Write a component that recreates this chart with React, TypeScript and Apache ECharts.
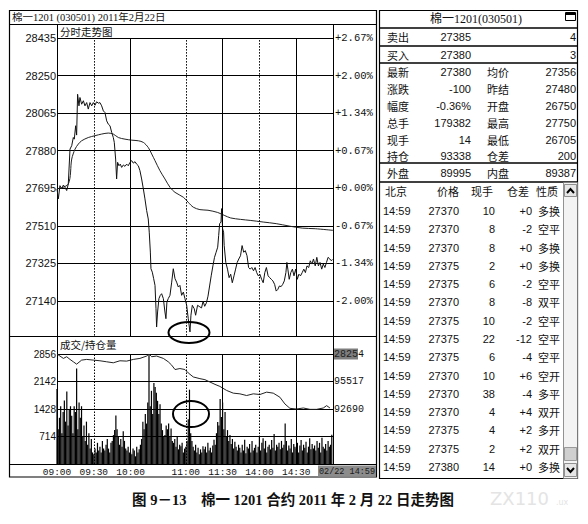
import React, { useEffect, useRef } from 'react';
import * as echarts from 'echarts';

// ---------- data ----------
const timeTicks = [0, 30, 60, 105, 135, 165, 195];
const timeLabels = ['09:00', '09:30', '10:00', '11:00', '11:30', '14:00', '14:30'];
const solidVerticals = [60, 135, 195];
const dottedVerticals = [30, 105, 165];

const priceTicks = [28435, 28250, 28065, 27880, 27695, 27510, 27325, 27140];
const pctLabels = ['+2.67%', '+2.00%', '+1.34%', '+0.67%', '+0.00%', '-0.67%', '-1.34%', '-2.00%'];

const priceMinutes = [
  0, 1.1, 2.4, 3.8, 5.2, 6.5, 7.9, 9.2, 10.6, 12.0, 13.3, 14.1, 15.2, 16.0, 16.8, 17.9, 18.7, 20.1, 21.5, 22.8,
  24.2, 25.5, 26.9, 28.3, 29.6, 31.0, 32.3, 33.7, 35.0, 36.4, 37.8, 39.1, 40.5, 41.8, 43.2, 44.6, 45.9, 46.7, 47.8, 48.6,
  49.4, 50.5, 51.6, 52.7, 54.1, 55.4, 56.8, 58.1, 59.5, 60.9, 62.2, 63.6, 64.9, 66.3, 67.6, 69.0, 70.4, 71.7, 73.1, 74.4,
  75.2, 76.1, 76.6, 77.7, 78.8, 79.9, 80.7, 81.2, 82.0, 83.1, 84.2, 85.3, 86.7, 88.0, 88.8, 89.6, 90.7, 92.1, 93.5, 94.8,
  96.2, 97.5, 98.9, 100.2, 101.6, 103.0, 104.3, 105.7, 107.0, 108.4, 109.2, 110.3, 111.9, 113.0, 114.6, 116.5,
  117.8, 119.1, 120.4, 121.8, 123.1, 124.4, 125.7, 127.1, 128.4, 129.7, 131.0, 131.8, 132.6, 133.7, 134.2, 135.0,
  135.8, 136.3, 137.6, 139.0, 140.3, 141.6, 142.9, 144.3, 145.6, 146.9, 148.2, 149.6, 150.9, 152.2, 153.5, 154.9,
  156.2, 157.5, 158.8, 160.2, 161.5, 162.8, 164.1, 165.4, 166.8, 168.1, 169.4, 170.7, 172.1, 173.4, 174.7, 176.0,
  177.4, 178.7, 180.0, 181.3, 182.7, 184.0, 185.3, 186.6, 187.4, 188.2, 189.3, 190.6, 191.9, 193.2, 194.6, 195.9,
  197.2, 198.5, 199.9, 201.2, 202.5, 203.8, 205.2, 206.5, 207.8, 209.1, 210.5, 211.8, 213.1, 214.4, 215.8, 217.1,
  218.4, 219.7, 221.0, 222.4, 223.7, 224.5,
];
const priceValues = [
  27692, 27643, 27708, 27692, 27711, 27700, 27684, 27716, 27888, 27905, 27945, 27937, 28003, 27957, 28158, 28101, 28142, 28109, 28126, 28101,
  28117, 28085, 28117, 28101, 28117, 28104, 28121, 28114, 28117, 28101, 28076, 28068, 28027, 28011, 28003, 27970, 27945, 27921, 27839, 27741,
  27823, 27806, 27814, 27798, 27810, 27803, 27814, 27806, 27823, 27831, 27819, 27826, 27814, 27806, 27782, 27741, 27692, 27643, 27585, 27544,
  27479, 27381, 27299, 27282, 27250, 27217, 27102, 27012, 27086, 27152, 27168, 27176, 27152, 27086, 27053, 27135, 27152, 27168, 27233, 27299,
  27250, 27233, 27209, 27217, 27168, 27184, 27152, 27119, 27053, 26988, 27070, 27119, 27102, 27070, 27119, 27111,
  27106, 27139, 27114, 27131, 27164, 27214, 27264, 27313, 27355, 27380, 27405, 27463, 27521, 27529, 27595, 27496,
  27479, 27413, 27330, 27297, 27255, 27272, 27230, 27264, 27297, 27330, 27347, 27363, 27413, 27380, 27388, 27363,
  27305, 27297, 27305, 27289, 27305, 27280, 27264, 27272, 27247, 27230, 27280, 27305, 27264, 27255, 27247, 27239,
  27222, 27189, 27197, 27214, 27211, 27222, 27239, 27280, 27330, 27297, 27247, 27280, 27297, 27264, 27297, 27247,
  27272, 27264, 27280, 27297, 27280, 27313, 27305, 27338, 27322, 27347, 27313, 27355, 27313, 27330, 27297, 27322,
  27305, 27330, 27355, 27347, 27338, 27345,
];

const avgMinutes = [0, 9.2, 12.0, 14.7, 17.4, 20.1, 25.5, 31.0, 36.4, 41.8, 45.9, 50.0, 55.4, 60.9, 66.3, 70.4, 74.4, 77.2, 79.9, 83.9,
  88.0, 92.1, 96.2, 103.0, 107.0, 111.1, 116.5, 123.1, 131.0, 136.3, 141.6, 149.6, 157.5, 168.1, 178.7, 189.3, 199.9, 210.5, 225];
const avgValues = [27692, 27716, 27839, 27888, 27913, 27929, 27945, 27954, 27962, 27967, 27962, 27945, 27937, 27932, 27929, 27921, 27896, 27864, 27831, 27782,
  27741, 27700, 27675, 27651, 27626, 27602, 27590, 27587, 27576, 27562, 27549, 27542, 27537, 27529, 27521, 27509, 27499, 27496, 27488];

const volTicks = [2856, 2142, 1428, 714];
const volumeValues = [
  1950, 900, 1200, 1500, 800, 1350, 1650, 1100, 1880, 1000, 1400, 1500, 1250, 800, 1500,
  1350, 2480, 900, 1600, 1200, 1500, 700, 1000, 600, 1100, 500, 800, 400, 650, 300,
  250, 400, 300, 550, 350, 450, 300, 600, 400, 350, 500, 650, 400, 300, 550,
  600, 750, 880, 1260, 900, 700, 500, 650, 450, 850, 600, 400, 350, 450, 300,
  300, 250, 400, 350, 200, 450, 300, 380, 500, 650, 1100, 900, 1300, 1050, 1600,
  2830, 1500, 1900, 1300, 2100, 2000, 1850, 1640, 1300, 1550, 1050, 880, 700, 750, 1000,
  900, 1050, 700, 920, 600, 550, 650, 450, 720, 380, 500, 460, 550, 300, 400,
  450, 600, 1165, 1930, 800, 600, 450, 350, 500, 300, 420, 250, 380, 300, 460,
  380, 450, 300, 550, 350, 420, 300, 480, 630, 500, 800, 1090, 1000, 1690, 1220,
  1600, 900, 1350, 700, 880, 600, 750, 520, 650, 400, 580, 450, 350, 500, 420,
  300, 500, 350, 630, 280, 450, 400, 520, 300, 600, 350, 420, 500, 300, 450,
  700, 350, 550, 670, 400, 600, 300, 450, 500, 380, 620, 420, 780, 350, 500,
  450, 550, 380, 600, 420, 500, 1050, 600, 350, 480, 400, 650, 300, 520, 450,
  400, 550, 300, 480, 620, 350, 500, 420, 580, 300, 450, 670, 380, 520, 400,
  480, 350, 600, 420, 550, 300, 680, 450, 400, 520, 350, 600, 450, 500, 760,
];

const oiTicks = [98344, 95517, 92690];
const oiLabels = ['28254', '95517', '92690'];
const oiMinutes = [0, 2.4, 5.2, 7.9, 10.6, 13.3, 16.0, 20.1, 24.2, 29.6, 35.0, 40.5, 45.9, 51.3, 56.8, 62.2, 67.6, 73.1, 75.0, 77.2,
  81.2, 86.7, 90.7, 93.5, 96.2, 100.2, 104.3, 107.0, 111.1, 116.5, 120.6, 124.7, 128.8, 132.8, 138.3, 143.7, 149.1, 154.6, 160.0, 165.4,
  170.9, 176.3, 181.7, 185.8, 189.9, 195.3, 200.8, 206.2, 211.6, 217.1, 219.8, 222.5];
const oiValues = [98342, 98134, 97891, 98064, 97787, 97544, 97301, 97717, 97787, 97717, 97648, 97544, 97440, 97648, 97613, 97787, 97891, 98134, 98342, 98064,
  98134, 97891, 97544, 97197, 96746, 96850, 96746, 96400, 95983, 95810, 95706, 95463, 95220, 95012, 94596, 94319, 94249, 94076, 94249, 94180,
  94423, 94319, 93902, 93209, 92758, 92689, 92793, 92654, 92654, 92793, 93036, 92793];

// right panel
const headerTitle = '棉一1201(030501)';
const bookLabels = ['卖出', '买入'];
const bookPrices = ['27385', '27380'];
const bookVols = ['4', '3'];
const statLabelsL = ['最新', '涨跌', '幅度', '总手', '现手', '持仓'];
const statValuesL = ['27380', '-100', '-0.36%', '179382', '14', '93338'];
const statLabelsR = ['均价', '昨结', '开盘', '最高', '最低', '仓差'];
const statValuesR = ['27356', '27480', '26750', '27750', '26705', '200'];
const outerLabels = ['外盘', '内盘'];
const outerValues = ['89995', '89387'];
const listHeaders = ['北京', '价格', '现手', '仓差', '性质'];
const tradeTimes = ['14:59', '14:59', '14:59', '14:59', '14:59', '14:59', '14:59', '14:59', '14:59', '14:59', '14:59', '14:59', '14:59', '14:59', '14:59'];
const tradePrices = ['27370', '27370', '27370', '27375', '27375', '27370', '27375', '27375', '27375', '27370', '27370', '27370', '27375', '27375', '27380'];
const tradeVols = ['10', '8', '8', '2', '6', '8', '10', '22', '6', '10', '38', '4', '4', '2', '14'];
const tradeDiffs = ['+0', '-2', '+0', '+0', '-2', '-8', '-2', '-12', '-4', '+6', '-4', '+4', '+2', '+2', '+0'];
const tradeNatures = ['多换', '空平', '多换', '多换', '空平', '双平', '空平', '空平', '空平', '空开', '多平', '双开', '多开', '双开', '多换'];

const chartTitle = '棉一1201 (030501) 2011年2月22日';
const priceTitle = '分时走势图';
const volTitle = '成交/持仓量';
const lastTime = '02/22 14:59';
const caption = '图 9－13　棉一 1201 合约 2011 年 2 月 22 日走势图';

// ---------- helpers ----------
const SANS = '"Liberation Sans", "Noto Sans CJK SC", sans-serif';
const MONO = '"Liberation Mono", "DejaVu Sans Mono", monospace';
const SERIF = '"Liberation Serif", "Noto Sans CJK SC", serif';

function T(text: string, x: number, y: number, o: any = {}) {
  return {
    type: 'text', x, y, z: 100, silent: true,
    style: {
      text, fill: o.fill || '#111', font: o.font || '11px ' + SANS,
      align: o.align || 'left', verticalAlign: 'middle',
    },
  };
}
function L(x1: number, y1: number, x2: number, y2: number, w = 1, color = '#000') {
  return { type: 'line', z: 100, silent: true, shape: { x1, y1, x2, y2 }, style: { stroke: color, lineWidth: w } };
}

export default function App() {
  const ref = useRef<HTMLDivElement>(null);
  useEffect(() => {
    if (!ref.current) return;
    const chart = echarts.init(ref.current, undefined, { renderer: 'svg' });

    const vLines = [
      ...solidVerticals.map((v) => ({ xAxis: v, lineStyle: { type: 'solid' } })),
      ...dottedVerticals.map((v) => ({ xAxis: v, lineStyle: { type: [1.5, 1.5] } })),
    ];
    const markLine = {
      silent: true, symbol: ['none', 'none'], label: { show: false },
      lineStyle: { color: '#000', width: 1 }, data: vLines, animation: false,
    };

    const g: any[] = [];
    // left chart frame
    g.push({ type: 'rect', z: 100, silent: true, shape: { x: 9.5, y: 10.5, width: 367, height: 466.5 }, style: { fill: 'none', stroke: '#000', lineWidth: 1.2 } });
    g.push(L(10, 24.5, 377, 24.5));
    g.push(T(chartTitle, 12, 17.5, { font: '10.5px ' + SERIF }));
    g.push(L(57.5, 24.5, 57.5, 38));
    g.push(L(333.5, 24.5, 333.5, 38));
    g.push(T(priceTitle, 60, 31.5, { font: '10.5px "Noto Sans CJK SC", sans-serif' }));
    // cover the bottom sliver of the price grid
    g.push({ type: 'rect', z: 50, silent: true, shape: { x: 11, y: 337, width: 365, height: 3 }, style: { fill: '#fff' } });
    g.push(L(10, 336.5, 377, 336.5));
    g.push(L(57.5, 336.5, 57.5, 354));
    g.push(L(333.5, 336.5, 333.5, 354));
    g.push(T(volTitle, 60, 344.5, { font: '10.5px "Noto Sans CJK SC", sans-serif' }));
    g.push(L(10, 464.5, 377, 464.5));
    g.push({ type: 'rect', z: 100, silent: true, shape: { x: 318, y: 465.5, width: 58, height: 11 }, style: { fill: '#8c8c8c' } });
    g.push(T(lastTime, 347, 471.5, { align: 'center', font: '8.5px ' + MONO, fill: '#1a1a1a' }));
    // ellipses
    g.push({ type: 'ellipse', z: 110, silent: true, shape: { cx: 189, cy: 332.5, rx: 20.5, ry: 10.5 }, style: { fill: 'none', stroke: '#000', lineWidth: 2 } });
    g.push({ type: 'ellipse', z: 110, silent: true, shape: { cx: 191, cy: 414, rx: 18, ry: 13 }, style: { fill: 'none', stroke: '#000', lineWidth: 2 } });

    // right panel
    g.push({ type: 'rect', z: 100, silent: true, shape: { x: 379.5, y: 10.5, width: 198, height: 468 }, style: { fill: 'none', stroke: '#000', lineWidth: 1.2 } });
    g.push(T(headerTitle, 476, 19, { align: 'center', font: '12px ' + SERIF }));
    g.push({ type: 'rect', z: 100, silent: true, shape: { x: 565.5, y: 12.5, width: 10, height: 8 }, style: { fill: '#fff', stroke: '#000', lineWidth: 1 } });
    g.push(L(566, 14, 575, 14, 2));
    [28, 46, 63, 163, 182].forEach((y) => g.push(L(380, y, 578, y, 1.4)));
    const CJK = '11px "Noto Sans CJK SC", sans-serif';
    bookLabels.forEach((lab, i) => {
      const y = 37 + i * 17.5;
      g.push(T(lab, 387, y, { font: CJK }));
      g.push(T(bookPrices[i], 471, y, { align: 'right' }));
      g.push(T(bookVols[i], 576, y, { align: 'right' }));
    });
    const statY = [72, 89, 106, 123, 140, 156];
    statLabelsL.forEach((lab, i) => {
      g.push(T(lab, 387, statY[i], { font: CJK }));
      g.push(T(statValuesL[i], 471, statY[i], { align: 'right' }));
      g.push(T(statLabelsR[i], 487, statY[i], { font: CJK }));
      g.push(T(statValuesR[i], 576, statY[i], { align: 'right' }));
    });
    g.push(T(outerLabels[0], 387, 173, { font: CJK }));
    g.push(T(outerValues[0], 471, 173, { align: 'right' }));
    g.push(T(outerLabels[1], 487, 173, { font: CJK }));
    g.push(T(outerValues[1], 576, 173, { align: 'right' }));
    const hx = [385, 448, 482, 518, 547];
    listHeaders.forEach((h, i) => g.push(T(h, hx[i], 191, { font: CJK, align: i === 0 ? 'left' : 'center' })));
    tradeTimes.forEach((t, i) => {
      const y = 211 + i * 18.29;
      g.push(T(t, 383, y));
      g.push(T(tradePrices[i], 459, y, { align: 'right' }));
      g.push(T(tradeVols[i], 495, y, { align: 'right' }));
      g.push(T(tradeDiffs[i], 532, y, { align: 'right' }));
      g.push(T(tradeNatures[i], 538, y, { font: CJK }));
    });
    // scrollbar
    g.push({ type: 'rect', z: 100, silent: true, shape: { x: 563.5, y: 182.5, width: 14, height: 296 }, style: { fill: '#f3f3f3', stroke: '#777', lineWidth: 0.8 } });
    g.push({ type: 'rect', z: 101, silent: true, shape: { x: 564.5, y: 184.5, width: 12, height: 12 }, style: { fill: '#e6e6e6', stroke: '#777', lineWidth: 0.8 } });
    g.push({ type: 'polyline', z: 102, silent: true, shape: { points: [[567, 193], [570.5, 189], [574, 193]] }, style: { stroke: '#000', lineWidth: 2, fill: 'none' } });
    g.push({ type: 'rect', z: 101, silent: true, shape: { x: 564.5, y: 447.5, width: 12, height: 13 }, style: { fill: '#cfcfcf', stroke: '#888', lineWidth: 0.8 } });
    g.push(L(567, 451.5, 574, 451.5, 0.8, '#888'));
    g.push(L(567, 454.5, 574, 454.5, 0.8, '#888'));
    g.push(L(567, 457.5, 574, 457.5, 0.8, '#888'));
    g.push({ type: 'rect', z: 101, silent: true, shape: { x: 564.5, y: 463.5, width: 12, height: 13 }, style: { fill: '#e6e6e6', stroke: '#777', lineWidth: 0.8 } });
    g.push({ type: 'polyline', z: 102, silent: true, shape: { points: [[567, 468], [570.5, 472], [574, 468]] }, style: { stroke: '#000', lineWidth: 2, fill: 'none' } });

    // caption + watermark
    g.push(T(caption, 293, 500, { align: 'center', font: 'bold 14.5px ' + SERIF }));
    g.push(T('ZX110', 490, 498, { font: '18px "DejaVu Sans", sans-serif', fill: '#e4e4e4' }));
    g.push(T('.ux', 556, 502, { font: '8px "DejaVu Sans", sans-serif', fill: '#e4e4e4' }));

    const option: any = {
      animation: false,
      backgroundColor: '#fff',
      textStyle: { fontFamily: SANS },
      grid: [
        { left: 57, top: 38, width: 276, height: 300.6 },
        { left: 57, top: 354, width: 276, height: 110 },
      ],
      xAxis: [
        { gridIndex: 0, type: 'value', min: 0, max: 225, axisLine: { show: false }, axisTick: { show: false }, axisLabel: { show: false }, splitLine: { show: false } },
        {
          gridIndex: 1, type: 'value', min: 0, max: 225,
          axisLine: { show: true, lineStyle: { color: '#000', width: 1 } }, axisTick: { show: false },
          axisLabel: {
            customValues: timeTicks, color: '#111', fontFamily: MONO, fontSize: 9.5, margin: 3,
            formatter: (v: number) => { const i = timeTicks.indexOf(Math.round(v)); return i >= 0 ? timeLabels[i] : ''; },
          },
          splitLine: { show: false },
        },
      ],
      yAxis: [
        {
          gridIndex: 0, type: 'value', min: 26955, max: 28435, interval: 185, position: 'left',
          axisLine: { show: true, lineStyle: { color: '#000' } }, axisTick: { show: false },
          axisLabel: {
            color: '#111', fontSize: 11, margin: 1, fontFamily: SANS,
            formatter: (v: number) => { const i = priceTicks.indexOf(Math.round(v)); return i >= 0 ? String(priceTicks[i]) : ''; },
          },
          splitLine: { show: true, lineStyle: { color: '#000', width: 1 } },
        },
        {
          gridIndex: 0, type: 'value', min: 26955, max: 28435, interval: 185, position: 'right',
          axisLine: { show: true, lineStyle: { color: '#000' } }, axisTick: { show: false },
          axisLabel: {
            color: '#111', fontSize: 10.5, margin: 2, fontFamily: MONO,
            formatter: (v: number) => { const i = priceTicks.indexOf(Math.round(v)); return i >= 0 ? pctLabels[i] : ''; },
          },
          splitLine: { show: false },
        },
        {
          gridIndex: 1, type: 'value', min: 0, max: 2856, interval: 714, position: 'left',
          axisLine: { show: true, lineStyle: { color: '#000' } }, axisTick: { show: false },
          axisLabel: {
            color: '#111', fontSize: 10, margin: 1, fontFamily: SANS,
            formatter: (v: number) => (volTicks.indexOf(Math.round(v)) >= 0 ? String(Math.round(v)) : ''),
          },
          splitLine: { show: true, lineStyle: { color: '#000', width: 1 } },
        },
        {
          gridIndex: 1, type: 'value', min: 87036, max: 98344, position: 'right',
          axisLine: { show: true, lineStyle: { color: '#000' } }, axisTick: { show: false },
          axisLabel: {
            customValues: oiTicks, color: '#111', fontSize: 10, margin: 1, fontFamily: MONO,
            formatter: (v: number) => {
              const i = oiTicks.indexOf(Math.round(v));
              if (i < 0) return '';
              if (i === 0) return '{hl|' + oiLabels[0].slice(0, 4) + '}' + oiLabels[0].slice(4);
              return oiLabels[i];
            },
            rich: { hl: { backgroundColor: '#7d7d7d', color: '#222', fontFamily: MONO, fontSize: 10, padding: [1, 0, 0, 0] } },
          },
          splitLine: { show: false },
        },
      ],
      series: [
        {
          type: 'line', xAxisIndex: 0, yAxisIndex: 0, symbol: 'none', silent: true,
          lineStyle: { color: '#111', width: 1 },
          data: priceMinutes.map((m, i) => [m, priceValues[i]]),
          markLine,
        },
        {
          type: 'line', xAxisIndex: 0, yAxisIndex: 0, symbol: 'none', silent: true, smooth: 0.3,
          lineStyle: { color: '#222', width: 1 },
          data: avgMinutes.map((m, i) => [m, avgValues[i]]),
        },
        {
          type: 'bar', xAxisIndex: 1, yAxisIndex: 2, barWidth: 1.2, silent: true,
          itemStyle: { color: '#000' },
          data: volumeValues.map((v, i) => [i, v]),
          markLine,
        },
        {
          type: 'line', xAxisIndex: 1, yAxisIndex: 3, symbol: 'none', silent: true,
          lineStyle: { color: '#222', width: 1 },
          data: oiMinutes.map((m, i) => [m, oiValues[i]]),
        },
      ],
      graphic: { elements: g },
    };
    chart.setOption(option);
    return () => chart.dispose();
  }, []);
  return <div ref={ref} style={{ position: 'absolute', left: 0, top: 0, width: 588, height: 524, background: '#fff' }} />;
}
